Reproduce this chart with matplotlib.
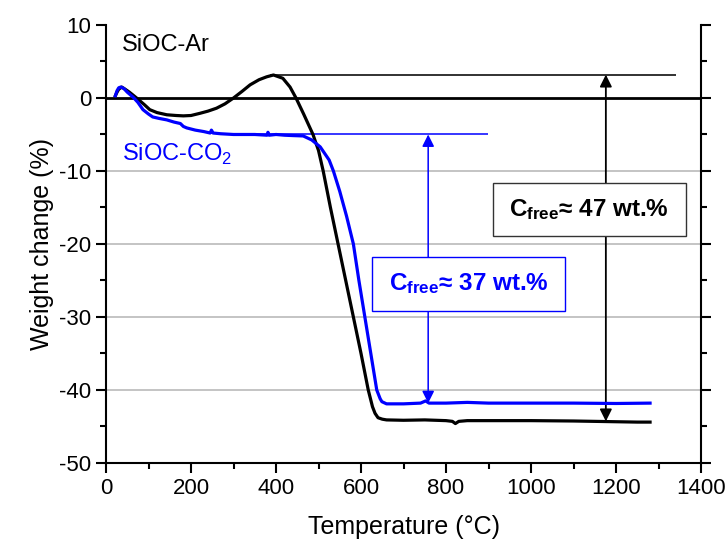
import matplotlib
matplotlib.use("Agg")
import matplotlib.pyplot as plt
from matplotlib.ticker import MultipleLocator

plt.rcParams["font.family"] = ["Liberation Sans", "DejaVu Sans"]
plt.rcParams["mathtext.fontset"] = "custom"
plt.rcParams["mathtext.rm"] = "Liberation Sans"
plt.rcParams["mathtext.bf"] = "Liberation Sans:bold"
plt.rcParams["axes.unicode_minus"] = False

# SiOC-Ar (black)
temp_ar = [22, 26, 30, 37, 45, 55, 72, 90, 103, 120, 143, 165, 182, 200, 221,
           240, 260, 280, 300, 320, 339, 360, 378, 394, 416, 433, 447, 465,
           487, 500, 511, 528, 546, 564, 582, 600, 617, 627, 633, 640, 650,
           660, 700, 750, 800, 815, 822, 830, 850, 900, 1000, 1100, 1200,
           1250, 1280]
wt_ar = [0.3, 0.8, 1.2, 1.5, 1.2, 0.8, 0.0, -0.9, -1.6, -2.0, -2.3, -2.4,
         -2.45, -2.4, -2.1, -1.8, -1.4, -0.8, 0.0, 0.9, 1.8, 2.5, 2.9, 3.15,
         2.7, 1.5, 0.0, -2.2, -5.0, -7.2, -10.0, -15.0, -20.0, -25.0, -30.0,
         -35.0, -40.0, -42.3, -43.2, -43.8, -44.0, -44.1, -44.15, -44.1,
         -44.2, -44.3, -44.6, -44.3, -44.2, -44.2, -44.2, -44.25, -44.35,
         -44.4, -44.4]

# SiOC-CO2 (blue)
temp_co2 = [22, 26, 30, 35, 42, 50, 64, 75, 87, 100, 110, 125, 143, 160, 175,
            182, 190, 210, 230, 245, 248, 252, 270, 300, 315, 350, 379, 381,
            384, 400, 420, 440, 464, 484, 504, 525, 535, 550, 566, 582, 595,
            609, 623, 637, 645, 649, 660, 700, 740, 752, 760, 800, 850, 900,
            1000, 1100, 1200, 1280]
wt_co2 = [0.3, 1.0, 1.4, 1.5, 1.3, 0.8, 0.1, -0.6, -1.6, -2.2, -2.6, -2.8,
          -3.0, -3.3, -3.5, -3.9, -4.1, -4.4, -4.6, -4.8, -4.4, -4.8, -4.9,
          -5.0, -5.0, -5.0, -5.1, -4.7, -5.1, -5.0, -5.1, -5.15, -5.2, -5.75,
          -6.7, -8.5, -10.0, -12.8, -16.2, -20.0, -25.0, -30.0, -35.0, -40.0,
          -41.2, -41.6, -41.9, -41.9, -41.8, -41.5, -41.8, -41.8, -41.7,
          -41.8, -41.8, -41.8, -41.85, -41.8]

# reference levels and arrows
ar_top, ar_bottom, ar_arrow_x = 3.2, -44.3, 1176
co2_top, co2_bottom, co2_arrow_x = -5.0, -41.8, 758

fig = plt.figure(figsize=(7.28, 5.42), dpi=100)
ax = fig.add_axes([0.1456, 0.1458, 0.8174, 0.8081])

for y in [-10, -20, -30, -40]:
    ax.axhline(y, color="#b4b4b4", lw=1.1, zorder=0)
ax.axhline(0, color="black", lw=2.0, zorder=1)

ax.hlines(ar_top, 386, 1340, color="#222222", lw=1.3, zorder=1)
ax.hlines(co2_top, 350, 898, color="blue", lw=1.1, zorder=1)

ax.plot(temp_ar, wt_ar, color="black", lw=2.3, zorder=3)
ax.plot(temp_co2, wt_co2, color="blue", lw=2.3, zorder=3)

ax.annotate("", xy=(ar_arrow_x, ar_top), xytext=(ar_arrow_x, ar_bottom),
            arrowprops=dict(arrowstyle="<|-|>", color="black", lw=1.3,
                            mutation_scale=18, shrinkA=0, shrinkB=0), zorder=2)
ax.annotate("", xy=(co2_arrow_x, co2_top), xytext=(co2_arrow_x, co2_bottom),
            arrowprops=dict(arrowstyle="<|-|>", color="blue", lw=1.1,
                            mutation_scale=18, shrinkA=0, shrinkB=0), zorder=2)

# boxes
ax.add_patch(plt.Rectangle((910, -18.95), 455, 7.25, facecolor="white",
                           edgecolor="#333333", lw=1.0, zorder=4))
ax.text(1137, -15.3, r"$\mathbf{C_{free}}$" + "\u2248 47 wt.%", ha="center",
        va="center", fontsize=17.5, fontweight="bold", color="black", zorder=5)
ax.add_patch(plt.Rectangle((626, -29.2), 454, 7.4, facecolor="white",
                           edgecolor="blue", lw=1.0, zorder=4))
ax.text(853, -25.4, r"$\mathbf{C_{free}}$" + "\u2248 37 wt.%", ha="center",
        va="center", fontsize=17.5, fontweight="bold", color="blue", zorder=5)

ax.text(38, 7.3, "SiOC-Ar", fontsize=17, color="black", va="center")
ax.text(38, -7.7, r"SiOC-CO$_2$", fontsize=17, color="blue", va="center")

ax.set_xlim(0, 1400)
ax.set_ylim(-50, 10)
ax.xaxis.set_major_locator(MultipleLocator(200))
ax.xaxis.set_minor_locator(MultipleLocator(100))
ax.yaxis.set_major_locator(MultipleLocator(10))
ax.yaxis.set_minor_locator(MultipleLocator(5))
ax.spines["top"].set_visible(False)
for s in ["left", "right", "bottom"]:
    ax.spines[s].set_linewidth(1.5)
ax.tick_params(which="both", direction="out", right=True, width=1.5,
               labelsize=16)
ax.tick_params(which="major", length=7)
ax.tick_params(which="minor", length=4)

ax.set_xlabel("Temperature (\u00b0C)", fontsize=18, labelpad=12)
ax.set_ylabel("Weight change (%)", fontsize=18, labelpad=4)

fig.savefig("out.png", dpi=100)
